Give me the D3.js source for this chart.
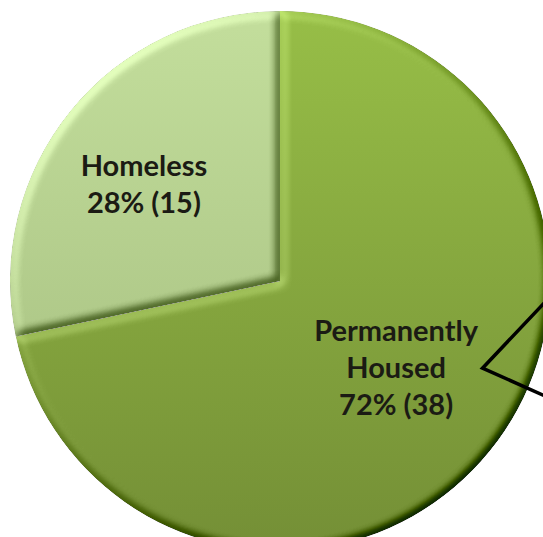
<!DOCTYPE html>
<meta charset="utf-8">
<style>
body { margin: 0; background: #fff; }
.label { font-family: Lato, "Liberation Sans", sans-serif; font-weight: bold; fill: #1b1b14; }
</style>
<svg id="chart" width="543" height="537"></svg>
<script src="https://cdn.jsdelivr.net/npm/d3@7"></script>
<script>

// order follows the clock from 12 o'clock
var categories = ["Permanently Housed", "Homeless"],
    counts = [38, 15];

var fillTop = ["#97be47", "#c3de9c"],
    fillBottom = ["#748f36", "#a2bb7c"];

var svg = d3.select("svg"),
    cx = 280, cy = 281, r = 270;

var defs = svg.append("defs");

categories.forEach(function(c, i) {
  var g = defs.append("linearGradient")
      .attr("id", "fill" + i)
      .attr("gradientUnits", "userSpaceOnUse")
      .attr("x1", 0).attr("y1", -r)
      .attr("x2", 0).attr("y2", r);
  g.append("stop").attr("offset", 0).attr("stop-color", fillTop[i]);
  g.append("stop").attr("offset", 1).attr("stop-color", fillBottom[i]);
});

// bevel: blurred alpha used as a height map, lit from the top left
var elev = 50;
var f = defs.append("filter")
    .attr("id", "bevel")
    .attr("x", "-5%").attr("y", "-5%").attr("width", "110%").attr("height", "110%")
    .attr("color-interpolation-filters", "sRGB");
f.append("feGaussianBlur").attr("in", "SourceAlpha").attr("stdDeviation", 5).attr("result", "blur");
f.append("feDiffuseLighting")
    .attr("in", "blur").attr("surfaceScale", 6).attr("diffuseConstant", 1)
    .attr("lighting-color", "#fff").attr("result", "light")
  .append("feDistantLight").attr("azimuth", 225).attr("elevation", elev);
f.append("feComposite")
    .attr("in", "SourceGraphic").attr("in2", "light")
    .attr("operator", "arithmetic")
    .attr("k1", 0).attr("k2", 1).attr("k3", 0.6).attr("k4", -0.6 * Math.sin(elev * Math.PI / 180))
    .attr("result", "lit");
f.append("feComposite").attr("in", "lit").attr("in2", "SourceAlpha").attr("operator", "in");

var total = d3.sum(counts);

var pie = d3.pie().sort(null).value(function(d) { return d; });

var arc = d3.arc().innerRadius(0).outerRadius(r);
var labelArc = d3.arc().innerRadius(156).outerRadius(156);

var g = svg.append("g").attr("transform", "translate(" + cx + "," + cy + ")");

var slices = pie(counts);

g.selectAll("path.slice")
  .data(slices)
  .enter().append("path")
    .attr("class", "slice")
    .attr("d", arc)
    .attr("fill", function(d, i) { return "url(#fill" + i + ")"; })
    .attr("filter", "url(#bevel)");

// connector toward the (cropped) secondary chart
var vx = 0.75 * r, vy = 0.323 * r;
g.append("path")
    .attr("d", d3.line()([[0.98 * r, 0.08 * r], [vx, vy], [0.98 * r, 0.425 * r]]))
    .attr("fill", "none")
    .attr("stroke", "#000")
    .attr("stroke-width", 3.5);

var fs = 29;

var labels = g.selectAll("text.label")
  .data(slices)
  .enter().append("text")
    .attr("class", "label")
    .attr("text-anchor", "middle")
    .style("font-size", fs + "px")
    .attr("transform", function(d) {
      var c = labelArc.centroid(d);
      // labels sit a little counter-clockwise of the centroid, nudged up-left
      var a = -3 * Math.PI / 180;
      var x = c[0] * Math.cos(a) - c[1] * Math.sin(a) - 10,
          y = c[0] * Math.sin(a) + c[1] * Math.cos(a) - 5;
      return "translate(" + x + "," + y + ")";
    });

labels.each(function(d, i) {
  var words = categories[i] === "Permanently Housed" ? ["Permanently", "Housed"] : [categories[i]];
  var lines = words.concat([Math.round(100 * counts[i] / total) + "% (" + counts[i] + ")"]);
  var t = d3.select(this);
  var y0 = -(lines.length - 1) * 37 / 2 + fs * 0.36;
  lines.forEach(function(l, j) {
    t.append("tspan").attr("x", 0).attr("y", y0 + j * 37).text(l);
  });
});

</script>
